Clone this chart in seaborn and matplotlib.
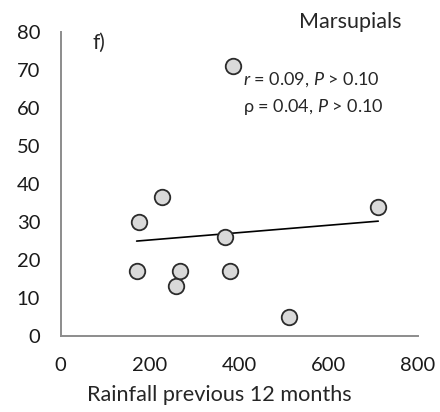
import numpy as np
import pandas as pd
import matplotlib
matplotlib.use("Agg")
import matplotlib.pyplot as plt
import seaborn as sns

# data
rainfall = [170, 175, 226, 258, 267, 368, 380, 386, 511, 711]
marsupials = [17, 30, 36.5, 13, 17, 26, 17, 71, 5, 34]
x_ticks = [0, 200, 400, 600, 800]
y_ticks = [0, 10, 20, 30, 40, 50, 60, 70, 80]

df = pd.DataFrame({"rain": rainfall, "count": marsupials})

sns.set_style("white")
plt.rcParams["font.family"] = ["Lato", "DejaVu Sans"]
plt.rcParams["mathtext.fontset"] = "custom"
plt.rcParams["mathtext.rm"] = "Lato"
plt.rcParams["mathtext.it"] = "Lato:italic"

fig = plt.figure(figsize=(4.4, 4.12), dpi=100)
ax = fig.add_axes([0.138, 0.185, 0.812, 0.737])

# fitted line + points
sns.regplot(data=df, x="rain", y="count", ax=ax, ci=None, scatter=False,
            line_kws={"color": "black", "lw": 1.2})
sns.scatterplot(data=df, x="rain", y="count", ax=ax, s=125, color="#d9d9d9",
                edgecolor="#2b2b2b", linewidth=1.3, zorder=3)

ax.set_xlim(0, 800)
ax.set_ylim(0, 80)
ax.set_xticks(x_ticks)
ax.set_yticks(y_ticks)
ax.set_xlabel("Rainfall previous 12 months", fontsize=15.6, labelpad=8, x=0.444)
ax.set_ylabel("")

for s in ["top", "right"]:
    ax.spines[s].set_visible(False)
for s in ["left", "bottom"]:
    ax.spines[s].set_color("#8c8c8c")
    ax.spines[s].set_linewidth(1.4)
ax.tick_params(axis="both", direction="out", width=1.4,
               color="#8c8c8c", labelsize=14.5, labelcolor="#1a1a1a")
ax.tick_params(axis="y", length=5.8, pad=9)
ax.tick_params(axis="x", length=4.3, pad=11)

ax.text(0.955, 1.035, "Marsupials", transform=ax.transAxes, ha="right",
        va="center", fontsize=15.5)
ax.text(0.088, 0.964, "f)", transform=ax.transAxes, ha="left", va="center",
        fontsize=15)
ax.text(0.51, 0.842, "$\\it{r}$ = 0.09, $\\it{P}$ > 0.10",
        transform=ax.transAxes, ha="left", va="center", fontsize=13)
ax.text(0.51, 0.753, "ρ = 0.04, $\\it{P}$ > 0.10",
        transform=ax.transAxes, ha="left", va="center", fontsize=13)

fig.savefig("out.png", dpi=100)
